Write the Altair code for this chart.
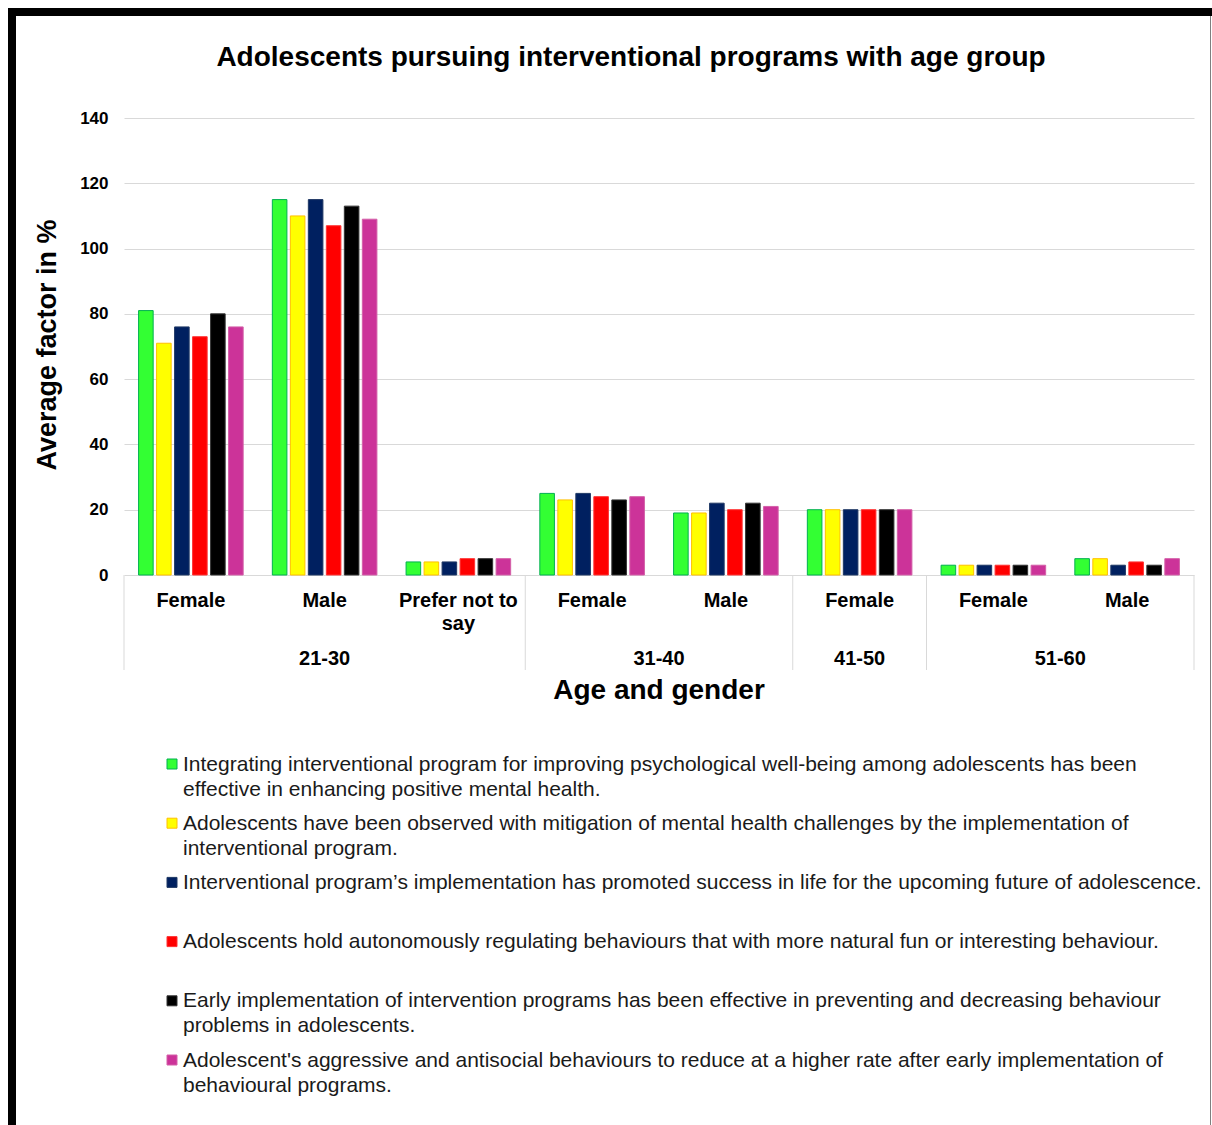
import altair as alt
import pandas as pd

# ---------------- data ----------------
age_groups = ["21-30", "21-30", "21-30", "31-40", "31-40", "41-50", "51-60", "51-60"]
genders = ["Female", "Male", "Prefer not to say", "Female", "Male", "Female", "Female", "Male"]
gender_labels = ["Female", "Male", "Prefer not to\nsay", "Female", "Male", "Female", "Female", "Male"]

series = [
    "Integrating interventional program for improving psychological well-being among adolescents has been\neffective in enhancing positive mental health.",
    "Adolescents have been observed with mitigation of mental health challenges by the implementation of\ninterventional program.",
    "Interventional program\u2019s implementation has promoted success in life for the upcoming future of adolescence.",
    "Adolescents hold autonomously regulating behaviours that with more natural fun or interesting behaviour.",
    "Early implementation of intervention programs has been effective in preventing and decreasing behaviour\nproblems in adolescents.",
    "Adolescent's aggressive and antisocial behaviours to reduce at a higher rate after early implementation of\nbehavioural programs.",
]
fill_colors = ["#33FF33", "#FFFF00", "#002060", "#FF0000", "#000000", "#CC3399"]
stroke_colors = ["#00B050", "#FFC000", "#1F3864", "#FF3333", "#333333", "#D45FA8"]

# values[category][series]
values = [
    [81, 71, 76, 73, 80, 76],
    [115, 110, 115, 107, 113, 109],
    [4, 4, 4, 5, 5, 5],
    [25, 23, 25, 24, 23, 24],
    [19, 19, 22, 20, 22, 21],
    [20, 20, 20, 20, 20, 20],
    [3, 3, 3, 3, 3, 3],
    [5, 5, 3, 4, 3, 5],
]

y_ticks = [0, 20, 40, 60, 80, 100, 120, 140]

title_text = "Adolescents pursuing interventional programs with age group"
y_title = "Average factor in %"
x_title = "Age and gender"

# ---------------- derived tables ----------------
keys = [f"{a}|{g}" for a, g in zip(age_groups, genders)]

bar_rows = []
for k, vals in zip(keys, values):
    for s, v in zip(series, vals):
        bar_rows.append({"key": k, "series": s, "value": v})
bars_df = pd.DataFrame(bar_rows)

cat_df = pd.DataFrame({"key": keys, "label": gender_labels})

group_order = []
for a in age_groups:
    if a not in group_order:
        group_order.append(a)
grp_center, grp_start = [], []
sep_start = []
for gname in group_order:
    members = [k for k, a in zip(keys, age_groups) if a == gname]
    sep_start.append({"key": members[0]})
    n = len(members)
    if n % 2 == 1:
        grp_center.append({"key": members[n // 2], "label": gname})
    else:
        grp_start.append({"key": members[n // 2], "label": gname})
sep_end = [{"key": keys[-1]}]

legend_df = pd.DataFrame({"series": series, "idx": list(range(len(series)))})

# ---------------- chart ----------------
W, H = 1070, 457
FONT = "Liberation Sans"

xscale = alt.Scale(domain=keys, paddingInner=0, paddingOuter=0)
color_scale = alt.Scale(domain=series, range=fill_colors)
stroke_scale = alt.Scale(domain=series, range=stroke_colors)

bars = alt.Chart(bars_df).mark_bar(strokeWidth=1).encode(
    x=alt.X("key:N", scale=xscale, axis=None, sort=keys),
    xOffset=alt.XOffset("series:N", scale=alt.Scale(domain=series, paddingInner=0.19, paddingOuter=0.81)),
    y=alt.Y(
        "value:Q",
        scale=alt.Scale(domain=[0, 140]),
        axis=alt.Axis(
            values=y_ticks, title=None, domain=False, ticks=False, grid=True,
            gridColor="#d9d9d9", gridWidth=1, labelFont=FONT, labelFontSize=17,
            labelFontWeight="bold", labelColor="#000000", labelPadding=16,
        ),
    ),
    color=alt.Color("series:N", scale=color_scale, legend=None),
    stroke=alt.Stroke("series:N", scale=stroke_scale, legend=None),
)

cat_text = alt.Chart(cat_df).mark_text(
    font=FONT, fontSize=20, fontWeight="bold", color="#000000",
    baseline="line-top", lineHeight=23, lineBreak="\n", align="center",
).encode(
    x=alt.X("key:N", scale=xscale, axis=None),
    y=alt.value(H + 15),
    text="label:N",
)

grp_c = alt.Chart(pd.DataFrame(grp_center)).mark_text(
    font=FONT, fontSize=20, fontWeight="bold", color="#000000", baseline="middle",
).encode(
    x=alt.X("key:N", scale=xscale, axis=None, bandPosition=0.5),
    y=alt.value(H + 84),
    text="label:N",
)
grp_s = alt.Chart(pd.DataFrame(grp_start)).mark_text(
    font=FONT, fontSize=20, fontWeight="bold", color="#000000", baseline="middle",
).encode(
    x=alt.X("key:N", scale=xscale, axis=None, bandPosition=0),
    y=alt.value(H + 84),
    text="label:N",
)

sep_a = alt.Chart(pd.DataFrame(sep_start)).mark_rule(color="#d9d9d9", strokeWidth=1).encode(
    x=alt.X("key:N", scale=xscale, axis=None, bandPosition=0),
    y=alt.value(H), y2=alt.value(H + 95),
)
sep_b = alt.Chart(pd.DataFrame(sep_end)).mark_rule(color="#d9d9d9", strokeWidth=1).encode(
    x=alt.X("key:N", scale=xscale, axis=None, bandPosition=1),
    y=alt.value(H), y2=alt.value(H + 95),
)

one = alt.Data(values=[{}])
title = alt.Chart(one).mark_text(
    text=title_text, font=FONT, fontSize=28, fontWeight="bold", color="#000000", baseline="middle",
).encode(x=alt.value(507), y=alt.value(-60))

ytitle = alt.Chart(one).mark_text(
    text=y_title, font=FONT, fontSize=27, fontWeight="bold", color="#000000",
    baseline="middle", angle=270,
).encode(x=alt.value(-76), y=alt.value(227))

xtitle = alt.Chart(one).mark_text(
    text=x_title, font=FONT, fontSize=28, fontWeight="bold", color="#000000", baseline="middle",
).encode(x=alt.value(535), y=alt.value(573))

legend_y = alt.Scale(domain=[0, len(series) - 1], range=[646, 942])
leg_sq = alt.Chart(legend_df).mark_square(size=100, strokeWidth=1, opacity=1).encode(
    x=alt.value(48),
    y=alt.Y("idx:Q", scale=legend_y, axis=None),
    color=alt.Color("series:N", scale=color_scale, legend=None),
    stroke=alt.Stroke("series:N", scale=stroke_scale, legend=None),
)
leg_txt = alt.Chart(legend_df).mark_text(
    font=FONT, fontSize=21, color="#1a1a1a", align="left", baseline="line-top",
    lineHeight=25, lineBreak="\n", dy=-12.5,
).encode(
    x=alt.value(59),
    y=alt.Y("idx:Q", scale=legend_y, axis=None),
    text="series:N",
)

border_top = alt.Chart(one).mark_rect(color="#000000").encode(
    x=alt.value(-116), x2=alt.value(1088), y=alt.value(-110), y2=alt.value(-102)
)
border_left = alt.Chart(one).mark_rect(color="#000000").encode(
    x=alt.value(-116), x2=alt.value(-108), y=alt.value(-110), y2=alt.value(1007)
)
border_right = alt.Chart(one).mark_rect(color="#7f7f7f").encode(
    x=alt.value(1086), x2=alt.value(1087), y=alt.value(-102), y2=alt.value(1007)
)

main = alt.layer(bars, cat_text, grp_c, grp_s, sep_a, sep_b, title, ytitle, xtitle)
legend = alt.layer(leg_sq, leg_txt)

chart = alt.layer(main, legend, border_top, border_left, border_right).resolve_scale(
    y="independent"
).properties(
    width=W, height=H,
    padding={"left": 124, "top": 118, "right": 18, "bottom": 550},
    autosize=alt.AutoSizeParams(type="none"),
    background="#ffffff",
).configure_view(stroke="transparent")

chart.save("out.html", embed_options={"renderer": "svg", "actions": False})
